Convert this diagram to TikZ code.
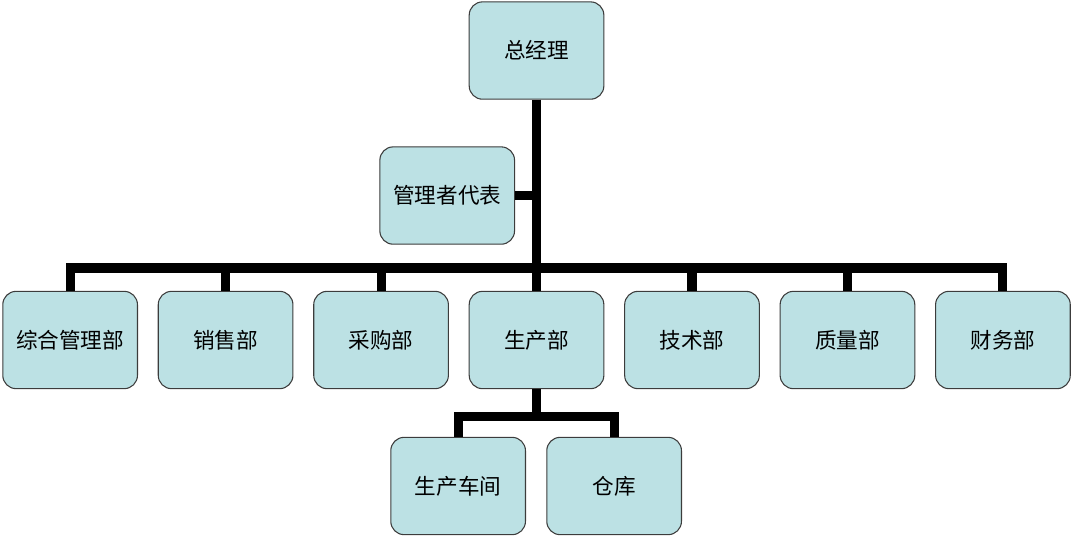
\documentclass[tikz,border=0pt]{standalone}
\usepackage{fontspec}
\setmainfont{Noto Sans CJK SC}
\usepackage{tikz}
\usetikzlibrary{
    positioning
}
\definecolor{boxfill}{RGB}{188,225,228}
\definecolor{boxline}{RGB}{60,60,60}
\tikzset{
    dept/.style={
        draw=boxline,
        fill=boxfill,
        line width=0.8pt,
        rounded corners=10pt,
        minimum width=101pt,
        minimum height=73pt,
        inner sep=2pt,
        font=\fontsize{16.2}{19}\selectfont
    },
    conn/.style={
        line width=6.8pt,
        black
    }
}

\begin{document}
\begin{tikzpicture}[
    node distance=116.6pt,
    on grid
]
    \useasboundingbox (0,0) rectangle (803.25pt,-402pt);

    % 部门
    \node[dept] (zjl) at (402.4pt,-37.9pt) {总经理};
    \node[dept] (gld) [below left=108.75pt and 67pt of zjl] {管理者代表};
    \node[dept] (scb) at (402.4pt,-255pt) {生产部};
    \node[dept] (cgb) [left=of scb] {采购部};
    \node[dept] (xsb) [left=of cgb] {销售部};
    \node[dept] (zhb) [left=of xsb] {综合管理部};
    \node[dept] (jsb) [right=of scb] {技术部};
    \node[dept] (zlb) [right=of jsb] {质量部};
    \node[dept] (cwb) [right=of zlb] {财务部};
    \node[dept] (scj) [below left=109.5pt and 58.8pt of scb] {生产车间};
    \node[dept] (cku) [below right=109.5pt and 58.2pt of scb] {仓库};

    % 连线
    \coordinate (bar) at (402.4pt,-201pt);
    \coordinate[below=20.5pt of scb.south] (sub);

    \draw[conn] (zjl.south) -- (scb.north);
    \draw[conn] (gld.east) -- (gld.east -| zjl.south);
    \draw[conn] (zhb.north) |- (bar) -| (cwb.north);
    \draw[conn] (xsb.north) |- (bar);
    \draw[conn] (cgb.north) |- (bar);
    \draw[conn] (jsb.north) |- (bar);
    \draw[conn] (zlb.north) |- (bar);
    \draw[conn] (scb.south) -- (sub);
    \draw[conn] (scj.north) |- (sub) -| (cku.north);

\end{tikzpicture}
\end{document}
